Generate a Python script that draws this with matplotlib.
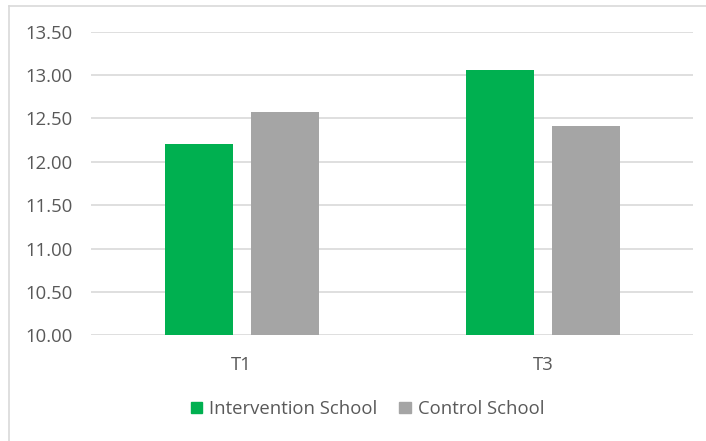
import matplotlib

matplotlib.use("Agg")
import matplotlib.pyplot as plt
from matplotlib.lines import Line2D
import numpy as np

# data
categories = ["T1", "T3"]
intervention = [12.21, 13.06]
control = [12.58, 12.41]
series_names = ["Intervention School", "Control School"]
y_ticks = [10.0, 10.5, 11.0, 11.5, 12.0, 12.5, 13.0, 13.5]

GREEN = "#00B050"
GREY = "#A5A5A5"
GRID = "#D9D9D9"
TEXT = "#595959"

plt.rcParams["font.family"] = ["Open Sans", "DejaVu Sans"]

W, H = 706, 441
fig = plt.figure(figsize=(W / 100, H / 100), dpi=100)
fig.patch.set_facecolor("white")

# plot area in pixels: x 91..693, y 32..335
ax = fig.add_axes([91.3 / W, 1 - 335.3 / H, (693.3 - 91.3) / W, (335.3 - 31.7) / H])

x = np.arange(len(categories))
bw = 0.2245
off = 0.143
ax.bar(x - off, intervention, bw, color=GREEN, label=series_names[0], zorder=3)
ax.bar(x + off, control, bw, color=GREY, label=series_names[1], zorder=3)

ax.set_xlim(-0.5, 1.5)
ax.set_ylim(10.0, 13.5)
ax.set_yticks(y_ticks)
ax.set_yticklabels([f"{v:.2f}" for v in y_ticks])
ax.set_xticks(x)
ax.set_xticklabels(categories)

ax.grid(axis="y", color=GRID, lw=1.2, zorder=0)
for s in ax.spines.values():
    s.set_visible(False)
ax.tick_params(axis="both", length=0, colors=TEXT, labelsize=13.3)
ax.tick_params(axis="y", pad=13.5)
ax.tick_params(axis="x", pad=15)

# legend below the plot
handles = [
    plt.Rectangle((0, 0), 1, 1, color=GREEN),
    plt.Rectangle((0, 0), 1, 1, color=GREY),
]
fig.legend(handles, series_names, loc="center", bbox_to_anchor=(367.5 / W, 1 - 409 / H),
           ncol=2, frameon=False, fontsize=13.3, labelcolor=TEXT,
           handlelength=0.6, handleheight=0.6, handletextpad=0.4, columnspacing=1.2)

# chart-area border (top and left edges visible)
fig.add_artist(Line2D([9 / W, 1], [1 - 6 / H, 1 - 6 / H], transform=fig.transFigure,
                      color=GRID, lw=1.2))
fig.add_artist(Line2D([9 / W, 9 / W], [0, 1 - 6 / H], transform=fig.transFigure,
                      color=GRID, lw=1.2))

fig.savefig("out.png", dpi=100, facecolor="white")
